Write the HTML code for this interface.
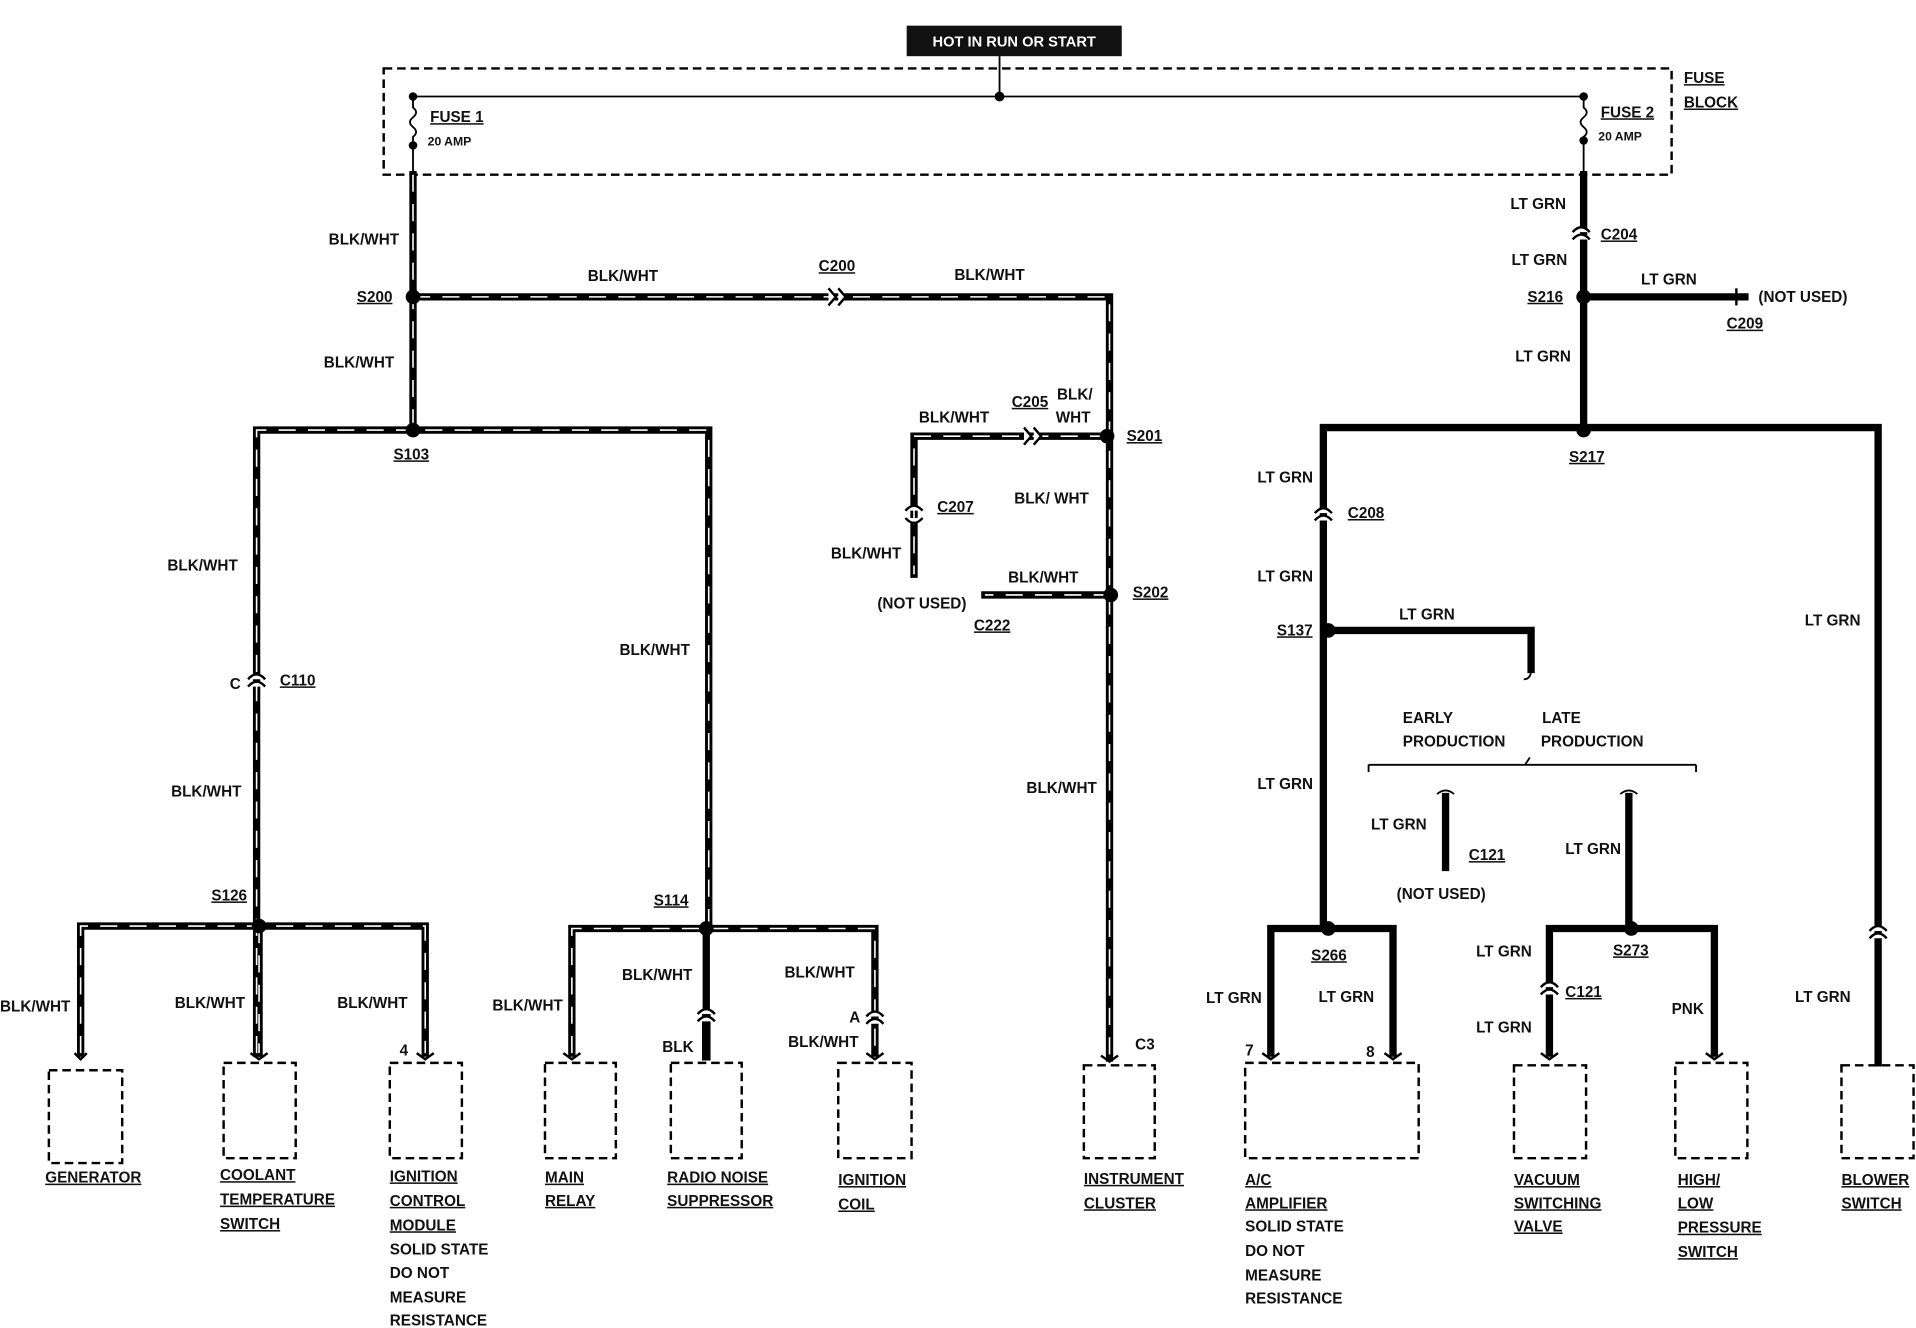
<!DOCTYPE html>
<html><head><meta charset="utf-8"><style>
html,body{margin:0;padding:0;background:#fff;}
svg{display:block}
text{font-family:"Liberation Sans",sans-serif;font-weight:bold;font-size:12.5px;fill:#111;}
.u{text-decoration:underline;}
.s{font-size:10px}
</style></head><body>
<svg width="1916" height="1328" viewBox="0 0 1568 1087" preserveAspectRatio="none" xmlns="http://www.w3.org/2000/svg">
<defs>
<style>
.w{stroke:#000;stroke-width:6;fill:none;stroke-linecap:square}
.st{stroke:#fff;stroke-width:1.3;fill:none;stroke-dasharray:14 10}
.g{stroke:#000;stroke-width:6;fill:none;stroke-linecap:square}
.t{stroke:#000;stroke-width:1.5;fill:none}
.box{stroke:#000;stroke-width:2;fill:none;stroke-dasharray:7 4}
</style>
</defs>
<rect x="742" y="21" width="176" height="25" fill="#111"/>
<text x="830" y="38" text-anchor="middle" style="fill:#fff;font-size:12px">HOT IN RUN OR START</text>
<line x1="818" y1="46" x2="818" y2="79" class="t"/>
<rect x="314" y="56" width="1054" height="87" class="box"/>
<line x1="338" y1="79" x2="1296" y2="79" class="t"/>
<circle cx="818" cy="79" r="4"/><circle cx="338" cy="79" r="3.5"/><circle cx="1296" cy="79" r="3.5"/>
<path d="M338 79 V88 q5 4 0 8 q-5 4 0 8 q5 4 0 8 V143" class="t"/>
<circle cx="338" cy="119" r="3.5"/>
<path d="M1296 79 V88 q5 4 0 8 q-5 4 0 8 q5 4 0 8 V143" class="t"/>
<circle cx="1296" cy="115" r="3.5"/>
<text x="352" y="100" class="u">FUSE 1</text><text x="350" y="119" class="s">20 AMP</text>
<text x="1310" y="96" class="u">FUSE 2</text><text x="1308" y="115" class="s">20 AMP</text>
<text x="1378" y="68" class="u">FUSE</text><text x="1378" y="88" class="u">BLOCK</text>

<g class="w">
<path d="M338 143 V352"/><path d="M338 243 H908 V866"/><path d="M906 357 H748 V470"/>
<path d="M909 487 H806"/><path d="M210 862 V352 H580 V760"/><path d="M66 862 V758 H348 V862"/>
<path d="M212 758 V862"/><path d="M468 862 V760 H716 V862"/>
</g>
<path d="M578 760 V830" class="w"/><path d="M578 830 V868" style="stroke:#000;stroke-width:7"/>
<g class="st">
<path d="M338 143 V352"/><path d="M338 243 H908 V866"/><path d="M906 357 H748 V470"/>
<path d="M909 487 H806"/><path d="M210 862 V352 H580 V760"/><path d="M66 862 V758 H348 V862"/>
<path d="M212 758 V862"/><path d="M468 862 V760 H716 V862"/>
</g>
<g class="g">
<path d="M1296 143 V352"/><path d="M1296 243 H1428"/>
<path d="M1083 760 V350 H1537 V870"/>
<path d="M1087 516 H1253 V548"/>
<path d="M1183 652 V710"/>
<path d="M1333 652 V760"/>
<path d="M1268 862 V760 H1403 V862"/>
<path d="M1040 862 V760 H1140 V862"/>
</g>
<path d="M1253 548 q0 8 -6 8" class="t"/>
<path d="M1176 650 q7 -6 14 0" class="t"/><path d="M1326 650 q7 -6 14 0" class="t"/>
<path d="M1120 626 H1388 M1120 626 v6 M1388 626 v6 M1248 626 l4 -6" class="t"/>
<g class="t" style="stroke-width:2;fill:#fff">
<path d="M678 236 l6 7 l-6 7 M686 236 l6 7 l-6 7"/>
<path d="M838 350 l6 7 l-6 7 M846 350 l6 7 l-6 7"/>
<path d="M203 556 q7 -8 14 0 M203 562 q7 -8 14 0"/>
<path d="M741 418 q7 -8 14 0 M741 424 q7 8 14 0"/>
<path d="M571 830 q7 -8 14 0 M571 836 q7 -8 14 0"/>
<path d="M709 832 q7 -8 14 0 M709 838 q7 -8 14 0"/>
<path d="M1287 190 q7 -8 14 0 M1287 196 q7 -8 14 0"/>
<path d="M1076 420 q7 -8 14 0 M1076 426 q7 -8 14 0"/>
<path d="M1261 808 q7 -8 14 0 M1261 814 q7 -8 14 0"/>
<path d="M1530 762 q7 -8 14 0 M1530 768 q7 -8 14 0"/>
<path d="M1421 236 v14"/>
</g>
<g style="stroke:#000;stroke-width:2;fill:none">
<path d="M61 862 l5 5 l5 -5 M205 862 l7 5 l7 -5 M341 862 l7 5 l7 -5 M461 862 l7 5 l7 -5 M709 862 l7 5 l7 -5 M901 864 l7 5 l7 -5 M1033 862 l7 5 l7 -5 M1133 862 l7 5 l7 -5 M1261 862 l7 5 l7 -5 M1396 862 l7 5 l7 -5"/>
</g>
<g>
<circle cx="338" cy="243" r="6"/><circle cx="338" cy="352" r="6"/><circle cx="906" cy="357" r="6"/>
<circle cx="909" cy="487" r="6"/><circle cx="212" cy="758" r="6"/><circle cx="578" cy="760" r="6"/>
<circle cx="1296" cy="243" r="6"/><circle cx="1296" cy="352" r="6"/><circle cx="1087" cy="516" r="6"/>
<circle cx="1087" cy="760" r="6"/><circle cx="1335" cy="760" r="6"/>
</g>
<g class="box">
<rect x="40" y="876" width="60" height="76"/><rect x="183" y="870" width="59" height="78"/>
<rect x="319" y="870" width="59" height="78"/><rect x="446" y="870" width="58" height="78"/>
<rect x="549" y="870" width="58" height="78"/><rect x="686" y="870" width="60" height="78"/>
<rect x="887" y="872" width="58" height="76"/><rect x="1019" y="870" width="142" height="78"/>
<rect x="1239" y="872" width="59" height="76"/><rect x="1371" y="870" width="59" height="78"/>
<rect x="1507" y="872" width="59" height="76"/>
</g>
<text x="269" y="200">BLK/WHT</text>
<text x="292" y="247" class="u">S200</text>
<text x="481" y="230">BLK/WHT</text>
<text x="670" y="222" class="u">C200</text>
<text x="781" y="229">BLK/WHT</text>
<text x="265" y="301">BLK/WHT</text>
<text x="322" y="376" class="u">S103</text>
<text x="752" y="346">BLK/WHT</text>
<text x="828" y="333" class="u">C205</text>
<text x="865" y="327">BLK/</text><text x="864" y="346">WHT</text>
<text x="922" y="361" class="u">S201</text>
<text x="830" y="412">BLK/ WHT</text>
<text x="767" y="419" class="u">C207</text>
<text x="680" y="457">BLK/WHT</text>
<text x="718" y="498">(NOT USED)</text>
<text x="825" y="477">BLK/WHT</text>
<text x="927" y="489" class="u">S202</text>
<text x="797" y="516" class="u">C222</text>
<text x="840" y="649">BLK/WHT</text>
<text x="929" y="859">C3</text>
<text x="137" y="467">BLK/WHT</text>
<text x="507" y="536">BLK/WHT</text>
<text x="188" y="564">C</text><text x="229" y="561" class="u">C110</text>
<text x="140" y="652">BLK/WHT</text>
<text x="173" y="737" class="u">S126</text>
<text x="535" y="741" class="u">S114</text>
<text x="0" y="828">BLK/WHT</text>
<text x="143" y="825">BLK/WHT</text>
<text x="276" y="825">BLK/WHT</text>
<text x="327" y="864">4</text>
<text x="403" y="827">BLK/WHT</text>
<text x="509" y="802">BLK/WHT</text>
<text x="642" y="800">BLK/WHT</text>
<text x="542" y="861">BLK</text>
<text x="695" y="837">A</text>
<text x="645" y="857">BLK/WHT</text>
<text x="37" y="968" class="u">GENERATOR</text>
<text x="180" y="966" class="u">COOLANT</text><text x="180" y="986" class="u">TEMPERATURE</text><text x="180" y="1006" class="u">SWITCH</text>
<text x="319" y="967" class="u">IGNITION</text><text x="319" y="987" class="u">CONTROL</text><text x="319" y="1007" class="u">MODULE</text>
<text x="319" y="1027">SOLID STATE</text><text x="319" y="1046">DO NOT</text><text x="319" y="1066">MEASURE</text><text x="319" y="1085">RESISTANCE</text>
<text x="446" y="968" class="u">MAIN</text><text x="446" y="987" class="u">RELAY</text>
<text x="546" y="968" class="u">RADIO NOISE</text><text x="546" y="987" class="u">SUPPRESSOR</text>
<text x="686" y="970" class="u">IGNITION</text><text x="686" y="990" class="u">COIL</text>
<text x="887" y="969" class="u">INSTRUMENT</text><text x="887" y="989" class="u">CLUSTER</text>
<text x="1236" y="171">LT GRN</text>
<text x="1310" y="196" class="u">C204</text>
<text x="1237" y="217">LT GRN</text>
<text x="1250" y="247" class="u">S216</text>
<text x="1343" y="233">LT GRN</text>
<text x="1439" y="247">(NOT USED)</text>
<text x="1413" y="269" class="u">C209</text>
<text x="1240" y="296">LT GRN</text>
<text x="1284" y="378" class="u">S217</text>
<text x="1029" y="395">LT GRN</text>
<text x="1103" y="424" class="u">C208</text>
<text x="1029" y="476">LT GRN</text>
<text x="1045" y="520" class="u">S137</text>
<text x="1145" y="507">LT GRN</text>
<text x="1477" y="512">LT GRN</text>
<text x="1148" y="592">EARLY</text><text x="1148" y="611">PRODUCTION</text>
<text x="1262" y="592">LATE</text><text x="1261" y="611">PRODUCTION</text>
<text x="1029" y="646">LT GRN</text>
<text x="1122" y="679">LT GRN</text>
<text x="1202" y="704" class="u">C121</text>
<text x="1143" y="736">(NOT USED)</text>
<text x="1281" y="699">LT GRN</text>
<text x="1073" y="786" class="u">S266</text>
<text x="1320" y="782" class="u">S273</text>
<text x="1208" y="783">LT GRN</text>
<text x="1281" y="816" class="u">C121</text>
<text x="1208" y="845">LT GRN</text>
<text x="987" y="821">LT GRN</text>
<text x="1079" y="820">LT GRN</text>
<text x="1368" y="830">PNK</text>
<text x="1469" y="820">LT GRN</text>
<text x="1019" y="864">7</text><text x="1118" y="865">8</text>
<text x="1019" y="970" class="u">A/C</text><text x="1019" y="989" class="u">AMPLIFIER</text>
<text x="1019" y="1008">SOLID STATE</text><text x="1019" y="1028">DO NOT</text><text x="1019" y="1048">MEASURE</text><text x="1019" y="1067">RESISTANCE</text>
<text x="1239" y="970" class="u">VACUUM</text><text x="1239" y="989" class="u">SWITCHING</text><text x="1239" y="1008" class="u">VALVE</text>
<text x="1373" y="970" class="u">HIGH/</text><text x="1373" y="989" class="u">LOW</text><text x="1373" y="1009" class="u">PRESSURE</text><text x="1373" y="1029" class="u">SWITCH</text>
<text x="1507" y="970" class="u">BLOWER</text><text x="1507" y="989" class="u">SWITCH</text>
</svg>
</body></html>
